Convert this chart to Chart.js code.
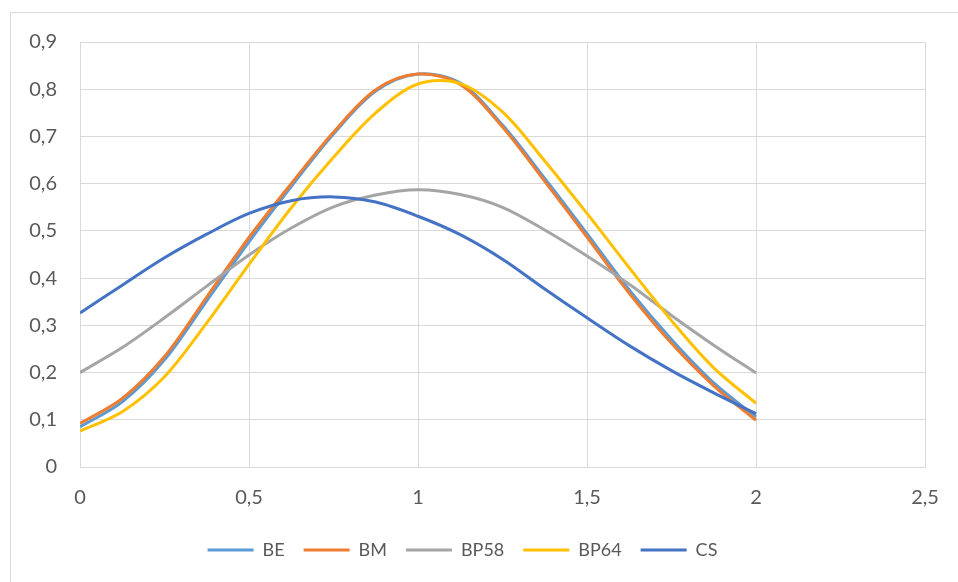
<!DOCTYPE html>
<html lang="es">
<head>
    <meta charset="UTF-8">
    <title>BE BM BP58 BP64 CS</title>
    <script src="https://cdn.jsdelivr.net/npm/chart.js@4.4.0/dist/chart.umd.min.js"></script>
    <style>
        * {
            margin: 0;
            padding: 0;
            box-sizing: border-box;
        }

        body {
            background-color: #ffffff;
            width: 958px;
            height: 582px;
            overflow: hidden;
            position: relative;
        }

        .frame {
            position: absolute;
            left: 10px;
            top: 12px;
            width: 1100px;
            height: 800px;
            border: 1px solid #d9d9d9;
        }

        #chart {
            position: absolute;
            left: 0;
            top: 0;
        }
    </style>
</head>
<body>
    <div class="frame"></div>
    <canvas id="chart" width="958" height="582"></canvas>

    <script>
        // valores (paso 0,125)
        const xValues = [0, 0.125, 0.25, 0.375, 0.5, 0.625, 0.75, 0.875, 1,
                         1.125, 1.25, 1.375, 1.5, 1.625, 1.75, 1.875, 2];
        const beValues = [0.085, 0.138, 0.227, 0.352, 0.477, 0.594, 0.705, 0.796, 0.832,
                          0.813, 0.724, 0.611, 0.494, 0.375, 0.270, 0.178, 0.106];
        const bmValues = [0.092, 0.145, 0.234, 0.360, 0.486, 0.600, 0.709, 0.799, 0.832,
                          0.810, 0.720, 0.605, 0.487, 0.368, 0.262, 0.172, 0.099];
        const bp58Values = [0.200, 0.253, 0.316, 0.383, 0.449, 0.506, 0.551, 0.576, 0.587,
                            0.577, 0.550, 0.502, 0.447, 0.387, 0.321, 0.258, 0.199];
        const bp64Values = [0.076, 0.117, 0.191, 0.305, 0.429, 0.549, 0.656, 0.750, 0.811,
                            0.812, 0.752, 0.648, 0.537, 0.422, 0.310, 0.210, 0.135];
        const csValues = [0.326, 0.385, 0.443, 0.493, 0.537, 0.564, 0.572, 0.561, 0.531,
                          0.492, 0.440, 0.377, 0.316, 0.257, 0.204, 0.157, 0.113];

        const seriesNames = ['BE', 'BM', 'BP58', 'BP64', 'CS'];
        const seriesColors = ['#5b9bd5', '#ed7d31', '#a5a5a5', '#ffc000', '#4472c4'];
        const seriesValues = [beValues, bmValues, bp58Values, bp64Values, csValues];

        const textColor = '#595959';
        const gridColor = '#d9d9d9';
        const fontFamily = 'Lato, "Open Sans", sans-serif';

        function formatTick(value) {
            return String(Number(value.toFixed(2))).replace('.', ',');
        }

        const datasets = seriesNames.map((name, i) => ({
            label: name,
            data: xValues.map((x, j) => ({ x: x, y: seriesValues[i][j] })),
            borderColor: seriesColors[i],
            backgroundColor: seriesColors[i],
            borderWidth: 3,
            showLine: true,
            pointRadius: 0,
            tension: 0.33,
            fill: false,
            // la última serie queda encima, como en Excel
            order: seriesNames.length - i
        }));

        new Chart(document.getElementById('chart').getContext('2d'), {
            type: 'scatter',
            data: { datasets: datasets },
            options: {
                responsive: false,
                animation: false,
                devicePixelRatio: 1,
                layout: {
                    padding: { left: 0, right: 33, top: 42, bottom: 13 }
                },
                plugins: {
                    tooltip: { enabled: false },
                    legend: {
                        position: 'bottom',
                        labels: {
                            usePointStyle: true,
                            pointStyle: 'line',
                            pointStyleWidth: 46,
                            boxHeight: 18,
                            padding: 19,
                            color: textColor,
                            font: { family: fontFamily, size: 18 },
                            sort: (a, b) => a.datasetIndex - b.datasetIndex
                        }
                    }
                },
                scales: {
                    x: {
                        type: 'linear',
                        min: 0,
                        max: 2.5,
                        afterFit: (scale) => { scale.height = 55; },
                        grid: { color: gridColor, lineWidth: 1, drawTicks: false },
                        border: { color: gridColor, width: 1 },
                        ticks: {
                            stepSize: 0.5,
                            padding: 19,
                            color: textColor,
                            font: { family: fontFamily, size: 20 },
                            callback: (value) => formatTick(value)
                        }
                    },
                    y: {
                        type: 'linear',
                        min: 0,
                        max: 0.9,
                        afterFit: (scale) => { scale.width = 80; },
                        grid: { color: gridColor, lineWidth: 1, drawTicks: false },
                        border: { color: gridColor, width: 1 },
                        ticks: {
                            stepSize: 0.1,
                            padding: 23,
                            color: textColor,
                            font: { family: fontFamily, size: 20 },
                            callback: (value) => formatTick(value)
                        }
                    }
                }
            }
        });
    </script>
</body>
</html>
